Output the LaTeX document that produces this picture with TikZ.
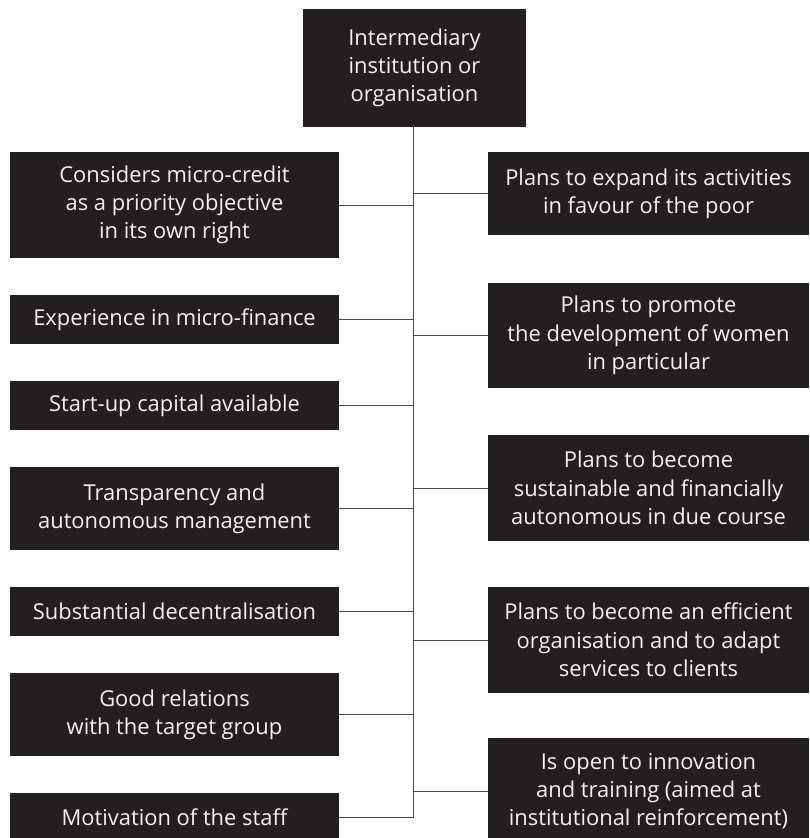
\documentclass[tikz,border=0pt]{standalone}
\usepackage{fontspec}
\setmainfont{Open Sans}
\definecolor{boxfill}{HTML}{231F20}
\definecolor{boxtext}{HTML}{F2F2F2}
\definecolor{linkgray}{HTML}{4A4A4A}
\begin{document}
\begin{tikzpicture}[x=1pt,y=-1pt,
  card/.style={rectangle, fill=boxfill, text=boxtext, inner sep=0pt,
    align=center, font=\fontsize{21.9}{28.3}\selectfont},
  leftcard/.style={card, minimum width=329pt},
  rightcard/.style={card, minimum width=321pt},
  link/.style={draw=linkgray, line width=1pt}]
\useasboundingbox (0,0) rectangle (809,838);

% root
\node[card, minimum width=223pt, minimum height=118pt] (top) at (414.5,68)
  {Intermediary\\institution or\\organisation};

% left column
\node[leftcard, minimum height=106pt] (l1) at (174.5,205)
  {Considers micro-credit\\as a priority objective\\in its own right};
\node[leftcard, minimum height=49pt] (l2) at (174.5,319.5)
  {Experience in micro-finance};
\node[leftcard, minimum height=49pt] (l3) at (174.5,405.5)
  {Start-up capital available};
\node[leftcard, minimum height=83pt] (l4) at (174.5,508.5)
  {Transparency and\\autonomous management};
\node[leftcard, minimum height=49pt] (l5) at (174.5,611.5)
  {Substantial decentralisation};
\node[leftcard, minimum height=83pt] (l6) at (174.5,714.5)
  {Good relations\\with the target group};
\node[leftcard, minimum height=49pt] (l7) at (174.5,817.5)
  {Motivation of the staff};

% right column
\node[rightcard, minimum height=83pt] (r1) at (648.5,193.5)
  {Plans to expand its activities\\in favour of the poor};
\node[rightcard, minimum height=105pt] (r2) at (648.5,335.5)
  {Plans to promote\\the development of women\\in particular};
\node[rightcard, minimum height=106pt] (r3) at (648.5,488)
  {Plans to become\\sustainable and financially\\autonomous in due course};
\node[rightcard, minimum height=106pt] (r4) at (648.5,640)
  {Plans to become an efficient\\organisation and to adapt\\services to clients};
\node[rightcard, minimum height=106pt] (r5) at (648.5,791)
  {Is open to innovation\\and training (aimed at\\institutional reinforcement)};

% spine
\coordinate (spine) at ([xshift=-1.5pt]top.south);
\draw[link] (spine) -- (spine |- l7.east);

% branches
\foreach \n in {l1,l2,l3,l4,l5,l6,l7}
  \draw[link] (\n.east) -- (\n.east -| spine);
\foreach \n in {r1,r2,r3,r4,r5}
  \draw[link] (\n.west) -- (\n.west -| spine);
\end{tikzpicture}
\end{document}
